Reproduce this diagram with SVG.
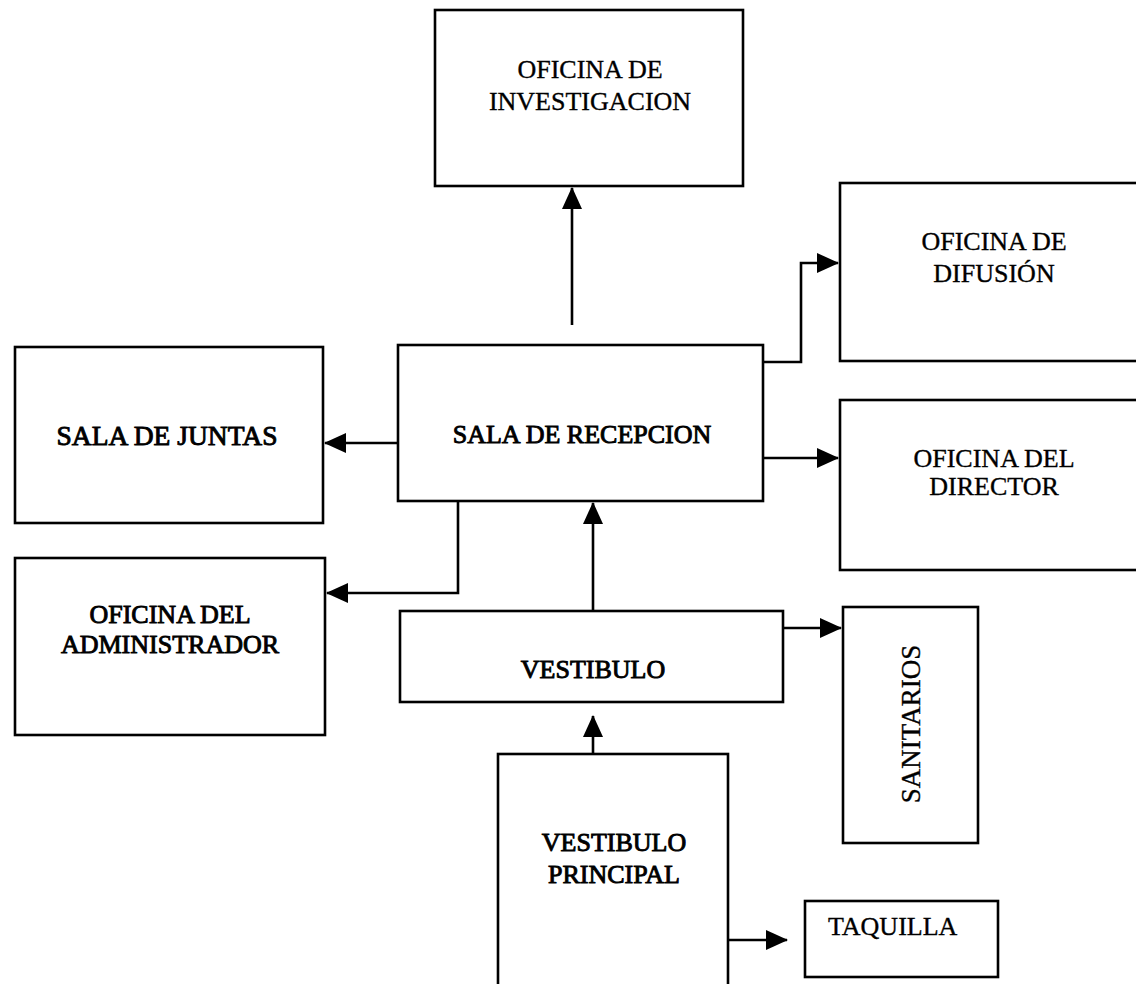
<svg xmlns="http://www.w3.org/2000/svg" width="1136" height="984" viewBox="0 0 1136 984">
<style>
.box{fill:#fff;stroke:#000;stroke-width:2.6}
.lbl{font-family:"Liberation Serif","Times New Roman",serif;font-size:26px;fill:#000;text-anchor:middle;stroke:#000;stroke-width:0.35}
.dark{stroke-width:0.9}
.con{fill:none;stroke:#000;stroke-width:2.6}
</style>
<defs>
<marker id="ah" markerUnits="userSpaceOnUse" markerWidth="22" markerHeight="20" refX="21" refY="10" orient="auto">
<path d="M0,0 L22,10 L0,20 Z" fill="#000"/>
</marker>
</defs>
<rect width="1136" height="984" fill="#fff"/>
<g id="connectors">
<path class="con" d="M572,325 V188" marker-end="url(#ah)"/>
<path class="con" d="M398,443 H325" marker-end="url(#ah)"/>
<path class="con" d="M458,501 V593 H327" marker-end="url(#ah)"/>
<path class="con" d="M593,611 V503" marker-end="url(#ah)"/>
<path class="con" d="M763,362 H801 V263 H838" marker-end="url(#ah)"/>
<path class="con" d="M763,458 H838" marker-end="url(#ah)"/>
<path class="con" d="M783,628 H841" marker-end="url(#ah)"/>
<path class="con" d="M593,754 V716" marker-end="url(#ah)"/>
<path class="con" d="M728,940 H787" marker-end="url(#ah)"/>
</g>
<g id="investigacion">
<rect class="box" x="435" y="10" width="308" height="176"/>
<text class="lbl" x="590" y="78">OFICINA DE</text>
<text class="lbl" x="590" y="110">INVESTIGACION</text>
</g>
<g id="difusion">
<rect class="box" x="840" y="183" width="320" height="178"/>
<text class="lbl" x="994" y="250">OFICINA DE</text>
<text class="lbl" x="994" y="282">DIFUSIÓN</text>
</g>
<g id="director">
<rect class="box" x="840" y="400" width="320" height="170"/>
<text class="lbl" x="994" y="467">OFICINA DEL</text>
<text class="lbl" x="994" y="495">DIRECTOR</text>
</g>
<g id="juntas">
<rect class="box" x="15" y="347" width="308" height="176"/>
<text class="lbl dark" x="167" y="445" style="font-size:27.5px">SALA DE JUNTAS</text>
</g>
<g id="recepcion">
<rect class="box" x="398" y="345" width="365" height="156"/>
<text class="lbl dark" x="582" y="443">SALA DE RECEPCION</text>
</g>
<g id="administrador">
<rect class="box" x="15" y="558" width="310" height="177"/>
<text class="lbl dark" x="170" y="623">OFICINA DEL</text>
<text class="lbl dark" x="170" y="653">ADMINISTRADOR</text>
</g>
<g id="vestibulo">
<rect class="box" x="400" y="611" width="383" height="91"/>
<text class="lbl dark" x="593" y="678">VESTIBULO</text>
</g>
<g id="sanitarios">
<rect class="box" x="843" y="607" width="135" height="236"/>
<text class="lbl" transform="translate(920,724) rotate(-90)" x="0" y="0" style="font-size:27px">SANITARIOS</text>
</g>
<g id="vestibulo-principal">
<rect class="box" x="498" y="754" width="230" height="250"/>
<text class="lbl dark" x="614" y="851">VESTIBULO</text>
<text class="lbl dark" x="614" y="883">PRINCIPAL</text>
</g>
<g id="taquilla">
<rect class="box" x="805" y="901" width="193" height="76"/>
<text class="lbl" x="828" y="935" style="text-anchor:start">TAQUILLA</text>
</g>
</svg>
